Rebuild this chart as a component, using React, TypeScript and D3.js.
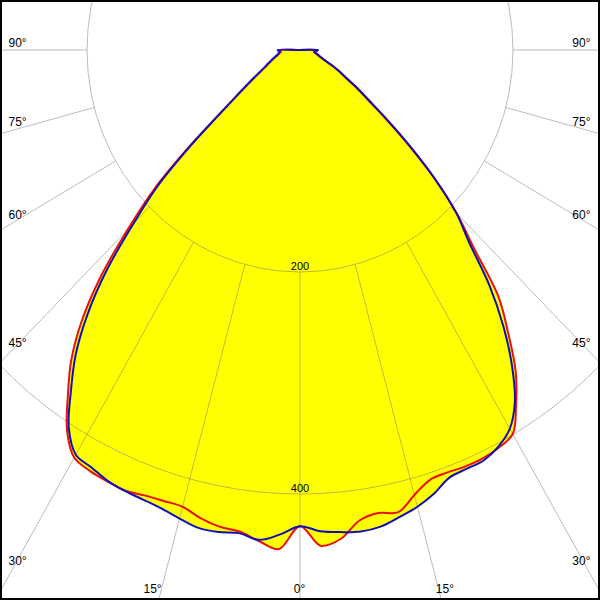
import React from "react";
import * as d3 from "d3";

// Gamma angles (degrees from nadir), negative = left half-plane
const ANGLES = [
  -90, -87.5, -85, -82.5, -80, -77.5, -75, -72.5, -70, -67.5, -65, -62.5, -60, -57.5, -55, -52.5,
  -50, -47.5, -45, -42.5, -40, -37.5, -35, -32.5, -30, -27.5, -25, -22.5, -20, -17.5, -15, -12.5,
  -10, -7.5, -5, -2.5, 0, 2.5, 5, 7.5, 10, 12.5, 15, 17.5, 20, 22.5, 25, 27.5, 30, 32.5, 35, 37.5,
  40, 42.5, 45, 47.5, 50, 52.5, 55, 57.5, 60, 62.5, 65, 67.5, 70, 72.5, 75, 77.5, 80, 82.5, 85, 87.5, 90,
];

// Blue plane (cd)
const BLUE = [
  21, 20, 19, 20, 21, 22.5, 24.5, 27, 29.5, 33, 36.5, 42, 50, 60, 74, 96,
  134, 181, 221, 268, 310, 346, 375, 404, 421, 424, 428, 430, 431, 433, 437, 441,
  441, 439, 443, 437, 429, 434, 436, 437.5, 436, 431, 426, 419, 410, 408.5, 408, 403, 394, 375.5, 347, 313.7,
  276.7, 235, 207.5, 172, 135, 103, 79, 64, 50, 42, 34, 27, 23, 20, 18, 16.5, 15, 14, 14.5, 15.5, 17,
];

// Red plane (cd)
const RED = [
  20, 19, 18, 19, 20, 21.5, 23.5, 26, 28.5, 32, 35.5, 41, 49, 59, 74, 97,
  137, 186, 229, 277, 319, 353, 380, 407, 424, 427.5, 428.7, 429.5, 427, 426, 426, 432,
  436, 437.5, 444, 450, 429, 447, 442, 427.5, 423.5, 426.5, 415, 406, 405, 406, 406, 404, 399.5, 377.6, 353, 321,
  289.7, 241, 208, 171, 133, 101, 77, 62, 48, 41, 33, 26, 22, 19, 17, 15.5, 14, 13, 13.5, 14.5, 16,
];

const RINGS = [200, 400];
const SPOKES = [-90, -75, -60, -45, -30, -15, 0, 15, 30, 45, 60, 75, 90];
const SIDE_LABELS = [90, 75, 60, 45, 30];
const BOTTOM_LABELS = [-15, 0, 15];

const W = 600;
const H = 600;

export default function App() {
  const xs = d3.scaleLinear().domain([0, 200]).range([300, 513]);
  const ys = d3.scaleLinear().domain([0, 200]).range([50, 272]);
  const rad = (a: number) => (a * Math.PI) / 180;
  const pt = (a: number, r: number): [number, number] => [
    xs(r * Math.sin(rad(a))),
    ys(r * Math.cos(rad(a))),
  ];

  const line = d3
    .line<[number, number]>()
    .x((d) => d[0])
    .y((d) => d[1])
    .curve(d3.curveCatmullRomClosed.alpha(0.5));

  const series = (vals: number[]) => {
    const pts = ANGLES.map((a, i) => pt(a, vals[i]));
    pts.push(pt(180, 0));
    return line(pts) || "";
  };

  const bluePath = series(BLUE);
  const redPath = series(RED);

  const cx = xs(0);
  const cy = ys(0);

  // side label y: where spoke crosses x = 18, plus small tweak
  const sideOffset: Record<number, number> = { 90: -3, 75: -2.7, 60: -0.7, 45: 3.1, 30: 5.9 };
  const spokeYAtX = (a: number, x: number) => {
    const u = Math.abs(xs.invert(x));
    const r = u / Math.sin(rad(a));
    return ys(r * Math.cos(rad(a)));
  };
  const spokeXAtY = (a: number, y: number) => {
    const v = ys.invert(y);
    const r = v / Math.cos(rad(a));
    return xs(r * Math.sin(rad(a)));
  };

  const font = "'Liberation Sans', Arial, sans-serif";

  return (
    <svg
      width={W}
      height={H}
      style={{ position: "absolute", left: 0, top: 0, display: "block" }}
    >
      <rect x={0} y={0} width={W} height={H} fill="#ffffff" />
      <path d={bluePath} fill="#ffff00" stroke="none" />
      <path d={redPath} fill="#ffff00" stroke="none" />

      <g stroke="#7a7a7a" strokeOpacity={0.5} strokeWidth={1} fill="none">
        {RINGS.map((r) => (
          <ellipse key={r} cx={cx} cy={cy} rx={xs(r) - cx} ry={ys(r) - cy} />
        ))}
        {SPOKES.map((a) => {
          const [x1, y1] = pt(a, 200);
          const [x2, y2] = pt(a, 1200);
          return <line key={a} x1={x1} y1={y1} x2={x2} y2={y2} />;
        })}
      </g>

      <path d={redPath} fill="none" stroke="#e81010" strokeWidth={2} strokeLinejoin="round" />
      <path d={bluePath} fill="none" stroke="#1010b8" strokeWidth={2} strokeLinejoin="round" />

      <g fontFamily={font} fontSize={11} fill="#000">
        {RINGS.map((r) => (
          <text key={r} x={cx} y={ys(r) - 2.5} textAnchor="middle">
            {r}
          </text>
        ))}
      </g>

      <g fontFamily={font} fontSize={12} fill="#000">
        {SIDE_LABELS.map((a) => {
          const y = spokeYAtX(a, 18) + sideOffset[a];
          return (
            <React.Fragment key={a}>
              <text x={8.5} y={y} textAnchor="start">
                {a}°
              </text>
              <text x={590.5} y={y} textAnchor="end">
                {a}°
              </text>
            </React.Fragment>
          );
        })}
        {BOTTOM_LABELS.map((a) => {
          const x = spokeXAtY(a, 590);
          const anchor = a < 0 ? "end" : a > 0 ? "start" : "middle";
          const dx = a < 0 ? 0.5 : a > 0 ? -3 : -0.5;
          return (
            <text key={a} x={x + dx} y={593} textAnchor={anchor}>
              {Math.abs(a)}°
            </text>
          );
        })}
      </g>

      <rect x={1} y={1} width={W - 2} height={H - 2} fill="none" stroke="#000" strokeWidth={2} />
    </svg>
  );
}
